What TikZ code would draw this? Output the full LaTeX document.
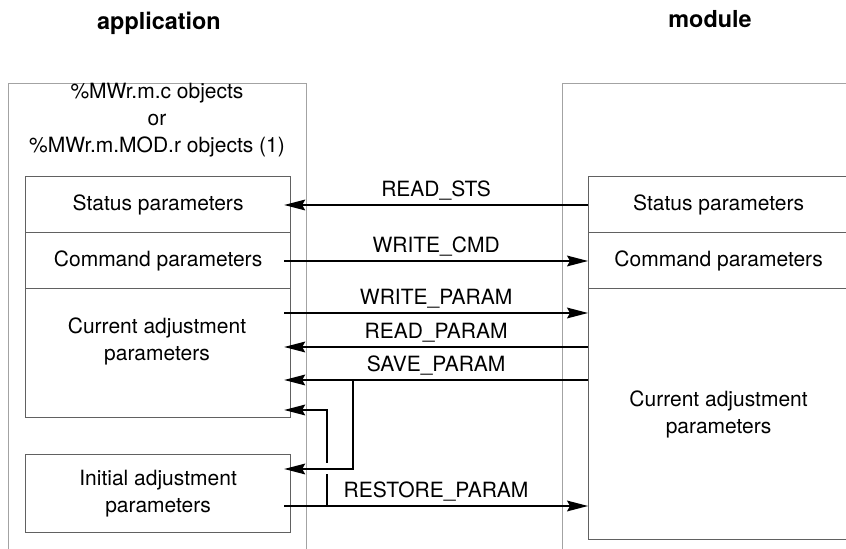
\documentclass[tikz,border=0pt]{standalone}
\usepackage{fontspec}
\setmainfont{TeX Gyre Heros}
\usetikzlibrary{arrows.meta}
\colorlet{outerline}{black!36}
\colorlet{innerline}{black!62}
\tikzset{>={Stealth[length=10.5pt,width=5.4pt,inset=1.5pt]}}
\tikzset{
  txt/.style = {font=\fontsize{10.5}{13.5}\selectfont, align=center},
  title/.style = {font=\bfseries\fontsize{11.7}{14}\selectfont, anchor=base},
  outerbox/.style = {draw=outerline, line width=0.6pt, anchor=north west,
    inner sep=0pt, minimum height=240pt},
  parambox/.style = {draw=innerline, line width=0.6pt, anchor=north west,
    inner sep=0pt, txt},
  flow/.style = {->, line width=0.7pt},
  lbl/.style = {txt, midway, above, inner sep=2pt}
}

\begin{document}
\begin{tikzpicture}[x=0.5pt,y=-0.5pt]
  \useasboundingbox (0,0) rectangle (846,549);
  \clip (0,0) rectangle (846,549);
  % headings
  \node[title] (app) at (159,30) {application};
  \node[title] (mod) at (710,28) {module};
  % frames
  \node[outerbox, minimum width=149pt] (appfr) at (8,83) {};
  \node[outerbox, minimum width=150pt] (modfr) at (562,83) {};
  \node[txt] (objs) at (157,120) {\%MWr.m.c objects\\or\\\%MWr.m.MOD.r objects (1)};
  % application side
  \node[parambox, minimum width=132.5pt, minimum height=28pt] (lsts) at (25,176) {Status parameters};
  \node[parambox, minimum width=132.5pt, minimum height=28pt] (lcmd) at (25,232) {Command parameters};
  \node[parambox, minimum width=132.5pt, minimum height=64.5pt] (lcur) at (25,288) {};
  \node[txt] (lcurtxt) at (157,341) {Current adjustment\\parameters};
  \node[parambox, minimum width=132.5pt, minimum height=39pt] (lini) at (25,454) {Initial adjustment\\parameters};
  % module side
  \node[parambox, minimum width=130pt, minimum height=28pt] (rsts) at (588,176) {Status parameters};
  \node[parambox, minimum width=130pt, minimum height=28pt] (rcmd) at (588,232) {Command parameters};
  \node[parambox, minimum width=130pt, minimum height=125.5pt] (rcur) at (588,288) {Current adjustment\\parameters};
  % rows
  \coordinate (lx) at ([xshift=-3.5pt]lsts.east);
  \coordinate (rx) at (rsts.west);
  \coordinate (ysts) at (0,205);
  \coordinate (ycmd) at (0,261);
  \coordinate (ywpar) at (0,313);
  \coordinate (yrpar) at (0,347);
  \coordinate (yspar) at (0,380);
  \coordinate (ycur) at (0,410);
  \coordinate (yini) at (0,469);
  \coordinate (yrest) at (0,506);
  % requests
  \draw[flow] (rx |- ysts) -- (lx |- ysts) node[lbl] {READ\_STS};
  \draw[flow] (lx |- ycmd) -- (rx |- ycmd) node[lbl] {WRITE\_CMD};
  \draw[flow] (lx |- ywpar) -- (rx |- ywpar) node[lbl] {WRITE\_PARAM};
  \draw[flow] (rx |- yrpar) -- (lx |- yrpar) node[lbl] {READ\_PARAM};
  \draw[flow] (rx |- yspar) -- (lx |- yspar) node[lbl] {SAVE\_PARAM};
  \draw[flow] (lx |- yrest) -- (rx |- yrest) node[lbl] {RESTORE\_PARAM};
  % branches
  \coordinate (savebr) at (353,380);
  \coordinate (restbr) at (327,506);
  \coordinate (gapbot) at (327,474);
  \coordinate (gaptop) at (327,463);
  \draw[flow] (savebr) |- (lx |- yini);
  \draw[line width=0.7pt] (restbr) -- (gapbot);
  \draw[flow] (gaptop) |- (lx |- ycur);
\end{tikzpicture}
\end{document}
